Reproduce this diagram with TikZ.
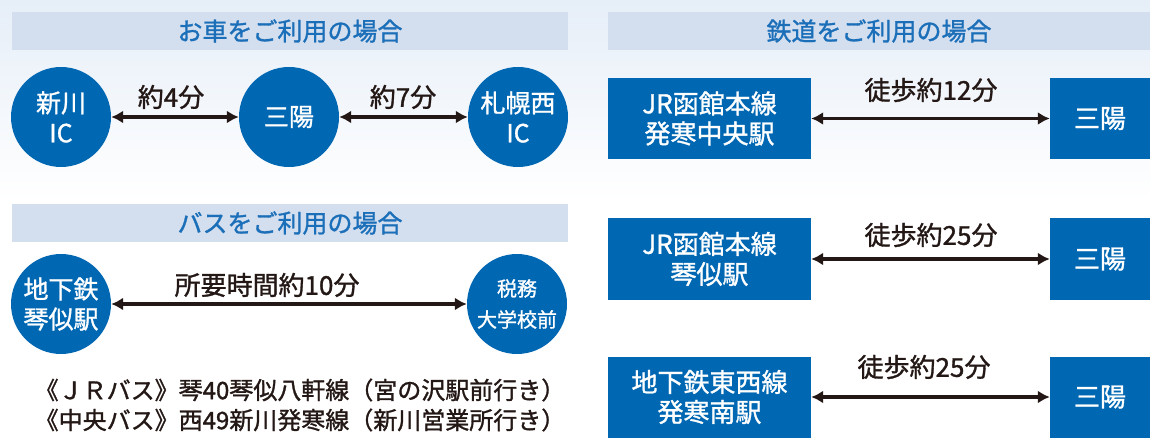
\documentclass[tikz,border=0pt]{standalone}
\usepackage{fontspec}
\setmainfont{Noto Sans CJK JP}[FakeBold=1.2]
\usetikzlibrary{arrows.meta}
\definecolor{sanyoblue}{HTML}{0067B3}
\definecolor{hdrbar}{HTML}{D3DEEF}
\definecolor{hdrtext}{HTML}{1B6FB8}
\definecolor{ink}{HTML}{231815}
\definecolor{skytop}{HTML}{E6EEF8}
\begin{document}
\begin{tikzpicture}[x=1pt,y=-1pt,
  every node/.style={font=\fontsize{25}{30}\selectfont,align=center},
  stn/.style={circle,fill=sanyoblue,text=white,minimum size=100pt,inner sep=0pt},
  eki/.style={rectangle,fill=sanyoblue,text=white,minimum width=203pt,minimum height=81pt,inner sep=0pt,font=\fontsize{26}{30}\selectfont},
  dest/.style={rectangle,fill=sanyoblue,text=white,minimum width=100pt,minimum height=81pt,inner sep=0pt,font=\fontsize{26}{30}\selectfont},
  hdr/.style={rectangle,fill=hdrbar,text=hdrtext,minimum height=38pt,inner sep=0pt},
  lbl/.style={text=ink,inner sep=0pt,font=\fontsize{26}{30}\selectfont},
  note/.style={text=ink,inner sep=0pt,font=\fontsize{24}{30}\selectfont},
  link/.style={ink,line width=3.5pt,{Latex[length=12pt,width=13pt]}-{Latex[length=12pt,width=13pt]}}]
\useasboundingbox (0,0) rectangle (1150,438);
% background
\fill[white] (0,0) rectangle (1150,438);
\shade[top color=skytop,bottom color=white] (0,0) rectangle (1150,200);

% by car
\node[hdr,minimum width=556pt] (hcar) at (290,31) {お車をご利用の場合};
\node[stn] (shinkawa) at (61,117) {新川\\IC};
\node[stn] (sanyo1) at (289,117) {三陽};
\node[stn] (sapporo) at (518,117) {札幌西\\IC};
\draw[link] (shinkawa) -- (sanyo1);
\draw[link] (sanyo1) -- (sapporo);
\node[lbl] (t4) at (171,97) {約4分};
\node[lbl] (t7) at (403,97) {約7分};

% by bus
\node[hdr,minimum width=556pt] (hbus) at (290,223) {バスをご利用の場合};
\node[stn] (kotoni) at (61,304) {地下鉄\\琴似駅};
\node[stn,font=\fontsize{20}{31}\selectfont] (zeimu) at (517,304) {税務\\大学校前};
\draw[link] (kotoni) -- (zeimu);
\node[lbl] (t10) at (267,285) {所要時間約10分};
\node[note] (bus1) at (300,390) {《ＪＲバス》琴40琴似八軒線（宮の沢駅前行き）};
\node[note] (bus2) at (300,420) {《中央バス》西49新川発寒線（新川営業所行き）};

% by rail
\node[hdr,minimum width=542pt] (hrail) at (879,31) {鉄道をご利用の場合};
\node[eki] (hassamu) at (709.5,118.5) {JR函館本線\\発寒中央駅};
\node[dest] (sanyo2) at (1100,118.5) {三陽};
\draw[link] (hassamu) -- (sanyo2);
\node[lbl] (w12) at (931,90) {徒歩約12分};

\node[eki] (jrkotoni) at (709.5,259) {JR函館本線\\琴似駅};
\node[dest] (sanyo3) at (1100,259) {三陽};
\draw[link] (jrkotoni) -- (sanyo3);
\node[lbl] (w25a) at (931,235) {徒歩約25分};

\node[eki] (minami) at (709.5,397) {地下鉄東西線\\発寒南駅};
\node[dest] (sanyo4) at (1100,397) {三陽};
\draw[link] (minami) -- (sanyo4);
\node[lbl] (w25b) at (924,367) {徒歩約25分};
\end{tikzpicture}
\end{document}
